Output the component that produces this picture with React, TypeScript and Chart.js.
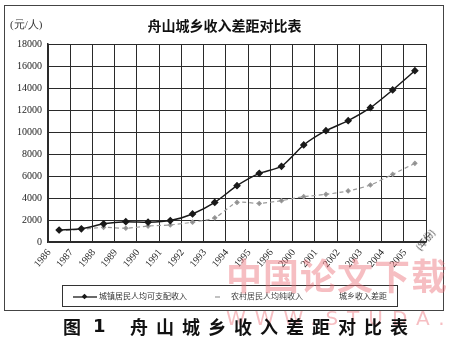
import React, { useEffect, useRef } from 'react';
import { Chart, registerables } from 'chart.js';

Chart.register(...registerables);

const years = ['1986', '1987', '1988', '1989', '1990', '1991', '1992', '1993', '1994', '1995', '1996', '2000', '2001', '2002', '2003', '2004', '2005'];
const urbanIncome = [1090, 1200, 1650, 1850, 1800, 1950, 2550, 3600, 5120, 6240, 6880, 8820, 10120, 11030, 12210, 13820, 15570];
const ruralIncome = [1000, 1150, 1330, 1250, 1450, 1550, 1800, 2200, 3600, 3500, 3760, 4120, 4330, 4640, 5180, 6150, 7150];
const incomeGap: (number | null)[] = [];
const seriesNames = ['城镇居民人均可支配收入', '农村居民人均纯收入', '城乡收入差距'];
const yMax = 18000;
const yStep = 2000;

export default function App() {
  const ref = useRef<HTMLCanvasElement>(null);

  useEffect(() => {
    document.body.style.margin = '0';
    const chart = new Chart(ref.current!, {
      type: 'line',
      data: {
        labels: years,
        datasets: [
          {
            label: seriesNames[0],
            data: urbanIncome,
            borderColor: '#1a1a1a',
            backgroundColor: '#1a1a1a',
            borderWidth: 1.5,
            pointStyle: 'rectRot',
            pointRadius: 2.8,
            tension: 0.2,
          },
          {
            label: seriesNames[1],
            data: ruralIncome,
            borderColor: '#9a9a9a',
            backgroundColor: '#8a8a8a',
            borderWidth: 1.2,
            borderDash: [4, 3],
            pointStyle: 'rectRot',
            pointRadius: 2,
            tension: 0.2,
          },
          {
            label: seriesNames[2],
            data: incomeGap,
            borderColor: '#bbbbbb',
            borderWidth: 1,
            borderDash: [6, 2, 1, 2],
            pointRadius: 0,
          },
        ],
      },
      options: {
        animation: false,
        responsive: false,
        maintainAspectRatio: false,
        layout: { padding: { left: 0, top: 44, right: 23, bottom: 0 } },
        plugins: {
          legend: { display: false },
          title: { display: false },
          tooltip: { enabled: false },
        },
        scales: {
          x: {
            type: 'category',
            offset: true,
            grid: { color: '#2a2a2a', lineWidth: 1, drawTicks: false, offset: true },
            border: { color: '#2a2a2a', width: 1.5 },
            ticks: {
              color: '#222',
              font: { family: 'Liberation Serif', size: 10 },
              minRotation: 50,
              maxRotation: 50,
              autoSkip: false,
              padding: 5,
              labelOffset: -10,
            },
            afterFit: (s: any) => {
              s.height = 111;
            },
          },
          y: {
            min: 0,
            max: yMax,
            grid: { color: '#2a2a2a', lineWidth: 1, drawTicks: false },
            border: { color: '#2a2a2a', width: 1.5 },
            ticks: {
              stepSize: yStep,
              color: '#222',
              font: { family: 'Liberation Serif', size: 10 },
              padding: 6,
              callback: (v: any) => String(v),
            },
            afterFit: (s: any) => {
              s.width = 48;
            },
          },
        },
      },
    });
    return () => chart.destroy();
  }, []);

  const wrap: React.CSSProperties = {
    position: 'absolute',
    left: 0,
    top: 0,
    width: 449,
    height: 353,
    background: '#fff',
    overflow: 'hidden',
    fontFamily: '"Noto Sans CJK SC", sans-serif',
  };

  return (
    <div style={wrap}>
      <div style={{ position: 'absolute', left: 4, top: 5, width: 440, height: 306, border: '1.5px solid #444', boxSizing: 'border-box' }} />
      <canvas ref={ref} width={449} height={353} style={{ position: 'absolute', left: 0, top: 0, display: 'block' }} />
      <div style={{ position: 'absolute', left: 0, width: 449, top: 16, textAlign: 'center', fontSize: 14, fontWeight: 700, color: '#111', lineHeight: '18px' }}>
        舟山城乡收入差距对比表
      </div>
      <div style={{ position: 'absolute', left: 10, top: 17, fontSize: 11, color: '#333', lineHeight: '14px', fontFamily: '"Liberation Serif", serif' }}>
        (元/人)
      </div>
      <div style={{ position: 'absolute', left: 414, top: 246, fontSize: 9, color: '#333', transform: 'rotate(-50deg)', transformOrigin: 'left top', lineHeight: '10px', whiteSpace: 'nowrap' }}>
        (年份)
      </div>
      <div style={{ position: 'absolute', left: 62, top: 285, width: 336, height: 22, border: '1px solid #333', boxSizing: 'border-box' }}>
        <svg style={{ position: 'absolute', left: 10, top: 7 }} width={24} height={8}>
          <line x1={0} y1={4} x2={24} y2={4} stroke="#1a1a1a" strokeWidth={1.3} />
          <rect x={9.5} y={1.5} width={4} height={4} fill="#1a1a1a" transform="rotate(45 11.5 3.5)" />
        </svg>
        <span style={{ position: 'absolute', left: 36, top: 5, fontSize: 8, color: '#333', lineHeight: '10px', whiteSpace: 'nowrap' }}>{seriesNames[0]}</span>
        <svg style={{ position: 'absolute', left: 152, top: 9 }} width={6} height={4}>
          <line x1={0} y1={2} x2={5} y2={2} stroke="#999" strokeWidth={1.2} />
        </svg>
        <span style={{ position: 'absolute', left: 168, top: 5, fontSize: 8, color: '#444', lineHeight: '10px', whiteSpace: 'nowrap' }}>{seriesNames[1]}</span>
        <span style={{ position: 'absolute', left: 276, top: 5, fontSize: 8, color: '#333', lineHeight: '10px', whiteSpace: 'nowrap' }}>{seriesNames[2]}</span>
      </div>
      <div style={{ position: 'absolute', left: 226, top: 252, fontSize: 36, fontWeight: 700, color: 'rgba(235,110,120,0.45)', lineHeight: '44px', whiteSpace: 'nowrap', letterSpacing: 1 }}>
        中国论文下载
      </div>
      <div style={{ position: 'absolute', left: 226, top: 306, fontSize: 20, color: 'rgba(235,110,120,0.45)', lineHeight: '24px', whiteSpace: 'nowrap', letterSpacing: 9, fontFamily: '"DejaVu Sans", sans-serif' }}>
        WWW.STUDA.
      </div>
      <div style={{ position: 'absolute', left: 63, top: 314, fontSize: 18, fontWeight: 700, color: '#111', lineHeight: '24px', whiteSpace: 'nowrap' }}>
        <span>图</span>
        <span style={{ position: 'absolute', left: 30, fontFamily: '"DejaVu Sans", sans-serif' }}>1</span>
        <span style={{ position: 'absolute', left: 67, letterSpacing: 8 }}>舟山城乡收入差距对比表</span>
      </div>
    </div>
  );
}
